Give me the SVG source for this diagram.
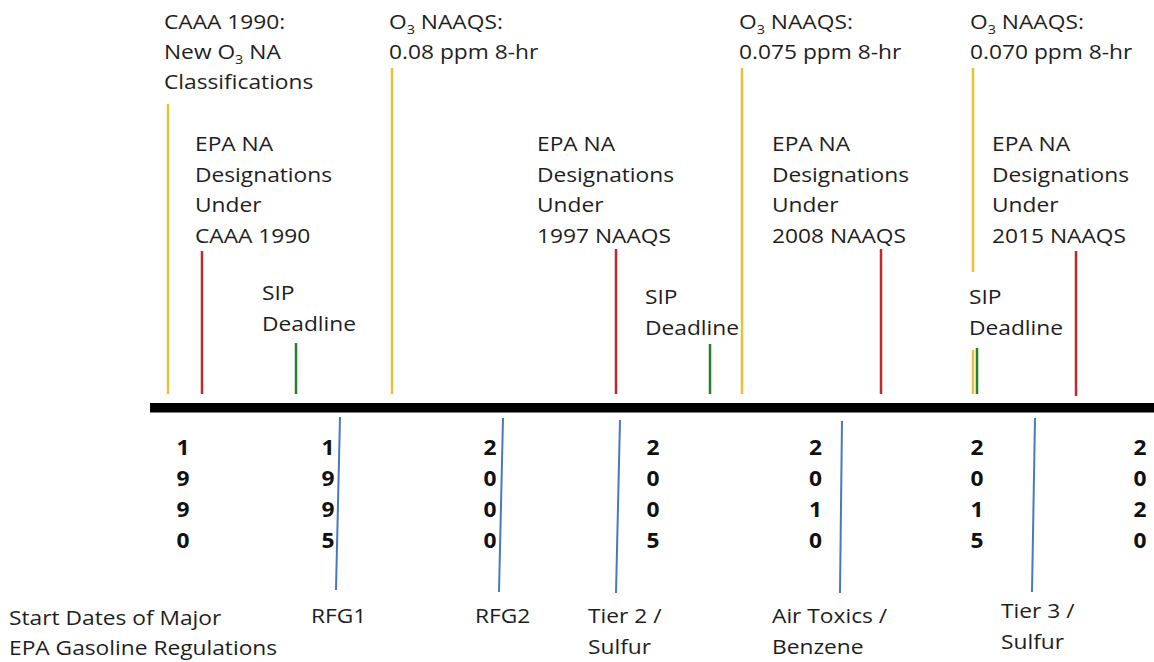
<svg xmlns="http://www.w3.org/2000/svg" width="1154" height="662" viewBox="0 0 1154 662">
<style>
.t{font-family:"Open Sans","Liberation Sans",sans-serif;font-size:20.5px;fill:#1e1e1e}
.d{font-family:"Open Sans","Liberation Sans",sans-serif;font-size:20.5px;font-weight:bold;fill:#111;text-anchor:middle}
.sub{font-size:13px}
.y{stroke:#E8C232;stroke-width:2.5;fill:none}
.r{stroke:#C0282D;stroke-width:2.5;fill:none}
.g{stroke:#23822A;stroke-width:2.5;fill:none}
.b{stroke:#4A77C2;stroke-width:2;fill:none}
</style>
<rect width="1154" height="662" fill="#fff"/>

<g id="timeline">
<rect x="150" y="403" width="1004" height="9.5" fill="#000"/>
</g>

<g id="connectors">
<line class="y" x1="168" y1="104" x2="168" y2="394"/>
<line class="r" x1="202" y1="251" x2="202" y2="394"/>
<line class="g" x1="296" y1="343" x2="296" y2="394"/>
<line class="y" x1="392" y1="68" x2="392" y2="394"/>
<line class="r" x1="616" y1="249" x2="616" y2="394"/>
<line class="g" x1="710" y1="344" x2="710" y2="394"/>
<line class="y" x1="742" y1="68" x2="742" y2="394"/>
<line class="r" x1="881" y1="249" x2="881" y2="394"/>
<line class="y" x1="973" y1="68" x2="973" y2="272"/>
<line class="y" x1="973" y1="350" x2="973" y2="394"/>
<line class="g" x1="977" y1="348" x2="977" y2="394"/>
<line class="r" x1="1076" y1="251" x2="1076" y2="396"/>
<line class="b" x1="340" y1="417" x2="336" y2="590"/>
<line class="b" x1="503" y1="418" x2="499" y2="592"/>
<line class="b" x1="620" y1="420" x2="616" y2="593"/>
<line class="b" x1="842" y1="421" x2="840" y2="593"/>
<line class="b" x1="1035" y1="418" x2="1032" y2="592"/>
</g>

<g id="caaa1990">
<text class="t" transform="translate(164,28.5) scale(1.11,1)"><tspan x="0" y="0">CAAA 1990:</tspan><tspan x="0" y="30.5">New O<tspan class="sub" dy="5">3</tspan><tspan dy="-5"> NA</tspan></tspan><tspan x="0" y="61">Classifications</tspan></text>
</g>
<g id="naaqs1997">
<text class="t" transform="translate(389,28.5) scale(1.11,1)"><tspan x="0" y="0">O<tspan class="sub" dy="5">3</tspan><tspan dy="-5"> NAAQS:</tspan></tspan><tspan x="0" y="30.5">0.08 ppm 8-hr</tspan></text>
</g>
<g id="naaqs2008">
<text class="t" transform="translate(739,28.5) scale(1.11,1)"><tspan x="0" y="0">O<tspan class="sub" dy="5">3</tspan><tspan dy="-5"> NAAQS:</tspan></tspan><tspan x="0" y="30.5">0.075 ppm 8-hr</tspan></text>
</g>
<g id="naaqs2015">
<text class="t" transform="translate(970,28.5) scale(1.11,1)"><tspan x="0" y="0">O<tspan class="sub" dy="5">3</tspan><tspan dy="-5"> NAAQS:</tspan></tspan><tspan x="0" y="30.5">0.070 ppm 8-hr</tspan></text>
</g>

<g id="designations1990">
<text class="t" transform="translate(195,151) scale(1.11,1)"><tspan x="0" y="0">EPA NA</tspan><tspan x="0" y="31">Designations</tspan><tspan x="0" y="61.5">Under</tspan><tspan x="0" y="92.5">CAAA 1990</tspan></text>
</g>
<g id="designations1997">
<text class="t" transform="translate(537,151) scale(1.11,1)"><tspan x="0" y="0">EPA NA</tspan><tspan x="0" y="31">Designations</tspan><tspan x="0" y="61.5">Under</tspan><tspan x="0" y="92.5">1997 NAAQS</tspan></text>
</g>
<g id="designations2008">
<text class="t" transform="translate(772,151) scale(1.11,1)"><tspan x="0" y="0">EPA NA</tspan><tspan x="0" y="31">Designations</tspan><tspan x="0" y="61.5">Under</tspan><tspan x="0" y="92.5">2008 NAAQS</tspan></text>
</g>
<g id="designations2015">
<text class="t" transform="translate(992,151) scale(1.11,1)"><tspan x="0" y="0">EPA NA</tspan><tspan x="0" y="31">Designations</tspan><tspan x="0" y="61.5">Under</tspan><tspan x="0" y="92.5">2015 NAAQS</tspan></text>
</g>

<g id="sip1">
<text class="t" transform="translate(262,300) scale(1.11,1)"><tspan x="0" y="0">SIP</tspan><tspan x="0" y="31.5">Deadline</tspan></text>
</g>
<g id="sip2">
<text class="t" transform="translate(645,304) scale(1.11,1)"><tspan x="0" y="0">SIP</tspan><tspan x="0" y="31.5">Deadline</tspan></text>
</g>
<g id="sip3">
<text class="t" transform="translate(969,304) scale(1.11,1)"><tspan x="0" y="0">SIP</tspan><tspan x="0" y="31.5">Deadline</tspan></text>
</g>

<g id="years">
<text class="d" transform="translate(183,455) scale(1.11,1)"><tspan x="0" y="0">1</tspan><tspan x="0" y="31">9</tspan><tspan x="0" y="62">9</tspan><tspan x="0" y="93">0</tspan></text>
<text class="d" transform="translate(328,455) scale(1.11,1)"><tspan x="0" y="0">1</tspan><tspan x="0" y="31">9</tspan><tspan x="0" y="62">9</tspan><tspan x="0" y="93">5</tspan></text>
<text class="d" transform="translate(490,455) scale(1.11,1)"><tspan x="0" y="0">2</tspan><tspan x="0" y="31">0</tspan><tspan x="0" y="62">0</tspan><tspan x="0" y="93">0</tspan></text>
<text class="d" transform="translate(653,455) scale(1.11,1)"><tspan x="0" y="0">2</tspan><tspan x="0" y="31">0</tspan><tspan x="0" y="62">0</tspan><tspan x="0" y="93">5</tspan></text>
<text class="d" transform="translate(815.5,455) scale(1.11,1)"><tspan x="0" y="0">2</tspan><tspan x="0" y="31">0</tspan><tspan x="0" y="62">1</tspan><tspan x="0" y="93">0</tspan></text>
<text class="d" transform="translate(977,455) scale(1.11,1)"><tspan x="0" y="0">2</tspan><tspan x="0" y="31">0</tspan><tspan x="0" y="62">1</tspan><tspan x="0" y="93">5</tspan></text>
<text class="d" transform="translate(1140,455) scale(1.11,1)"><tspan x="0" y="0">2</tspan><tspan x="0" y="31">0</tspan><tspan x="0" y="62">2</tspan><tspan x="0" y="93">0</tspan></text>
</g>

<g id="legend">
<text class="t" transform="translate(9,625) scale(1.11,1)"><tspan x="0" y="0">Start Dates of Major</tspan><tspan x="0" y="30.5">EPA Gasoline Regulations</tspan></text>
</g>
<g id="rfg1">
<text class="t" transform="translate(311,623) scale(1.11,1)">RFG1</text>
</g>
<g id="rfg2">
<text class="t" transform="translate(475,623) scale(1.11,1)">RFG2</text>
</g>
<g id="tier2">
<text class="t" transform="translate(588,623) scale(1.11,1)"><tspan x="0" y="0">Tier 2 /</tspan><tspan x="0" y="31">Sulfur</tspan></text>
</g>
<g id="airtoxics">
<text class="t" transform="translate(772,623) scale(1.11,1)"><tspan x="0" y="0">Air Toxics /</tspan><tspan x="0" y="31">Benzene</tspan></text>
</g>
<g id="tier3">
<text class="t" transform="translate(1001,618) scale(1.11,1)"><tspan x="0" y="0">Tier 3 /</tspan><tspan x="0" y="31">Sulfur</tspan></text>
</g>
</svg>
